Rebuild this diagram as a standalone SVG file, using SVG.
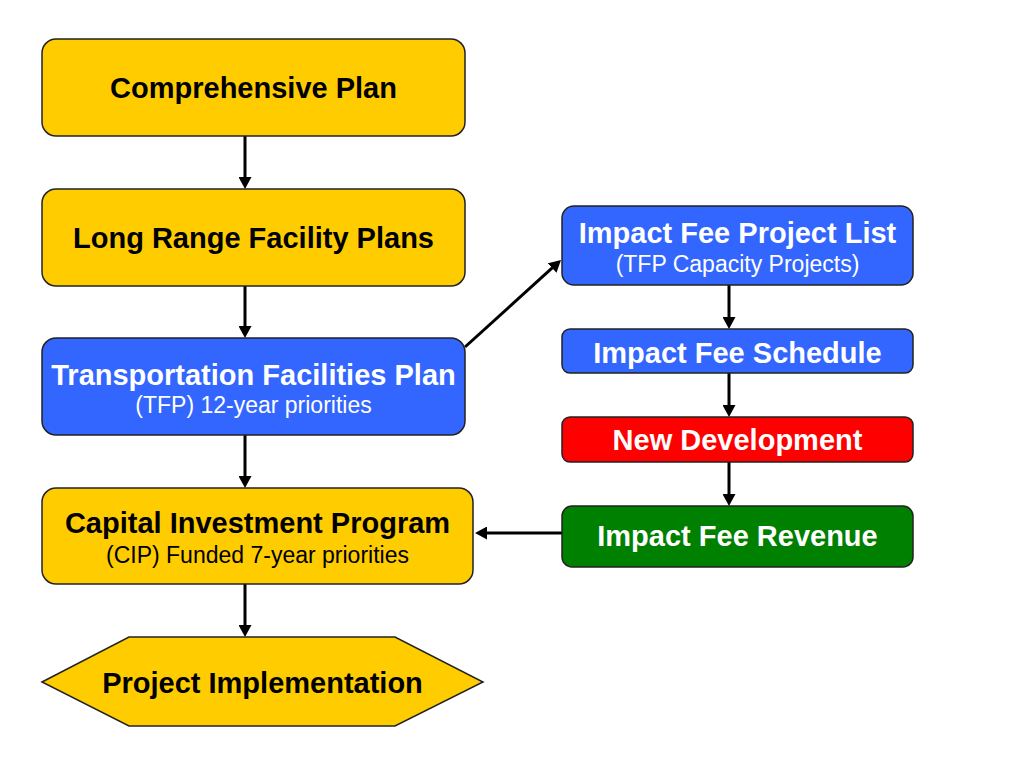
<svg xmlns="http://www.w3.org/2000/svg" width="1033" height="775" viewBox="0 0 1033 775">
  <style>
    .box { stroke: #222; stroke-width: 1.5; }
    .yellow { fill: #FFCC00; }
    .blue { fill: #3366FF; }
    .red { fill: #FF0000; }
    .green { fill: #008000; }
    .title { font-family: "Liberation Sans", Arial, sans-serif; font-weight: bold; font-size: 29px; text-anchor: middle; }
    .sub { font-family: "Liberation Sans", Arial, sans-serif; font-size: 23px; text-anchor: middle; }
    .dark { fill: #000; }
    .light { fill: #fff; }
    .conn { stroke: #000; stroke-width: 3; fill: none; marker-end: url(#arrow); }
  </style>
  <defs>
    <marker id="arrow" markerUnits="userSpaceOnUse" markerWidth="12" markerHeight="13" refX="2" refY="6.5" orient="auto">
      <path d="M0,0 L12,6.5 L0,13 z" fill="#000"/>
    </marker>
  </defs>
  <rect width="1033" height="775" fill="#fff"/>

  <g id="connectors">
    <line class="conn" x1="245" y1="136" x2="245" y2="179"/>
    <line class="conn" x1="245" y1="286" x2="245" y2="328"/>
    <line class="conn" x1="245" y1="435" x2="245" y2="478"/>
    <line class="conn" x1="245" y1="584" x2="245" y2="627"/>
    <line class="conn" x1="465" y1="347" x2="553.6" y2="266.7"/>
    <line class="conn" x1="729" y1="285" x2="729" y2="319"/>
    <line class="conn" x1="729" y1="373" x2="729" y2="407"/>
    <line class="conn" x1="729" y1="462" x2="729" y2="496"/>
    <line class="conn" x1="562" y1="533" x2="485" y2="533"/>
  </g>

  <g id="comprehensive-plan">
    <rect class="box yellow" x="42" y="39" width="423" height="97" rx="14"/>
    <text class="title dark" x="253.5" y="98">Comprehensive Plan</text>
  </g>

  <g id="long-range-facility-plans">
    <rect class="box yellow" x="42" y="189" width="423" height="97" rx="14"/>
    <text class="title dark" x="253.5" y="248">Long Range Facility Plans</text>
  </g>

  <g id="transportation-facilities-plan">
    <rect class="box blue" x="42" y="338" width="423" height="97" rx="14"/>
    <text class="title light" x="253.5" y="385">Transportation Facilities Plan</text>
    <text class="sub light" x="253.5" y="413">(TFP) 12-year priorities</text>
  </g>

  <g id="capital-investment-program">
    <rect class="box yellow" x="42" y="488" width="431" height="96" rx="14"/>
    <text class="title dark" x="257.5" y="533">Capital Investment Program</text>
    <text class="sub dark" x="257.5" y="563">(CIP) Funded 7-year priorities</text>
  </g>

  <g id="project-implementation">
    <polygon class="box yellow" points="42,682 129,637 395,637 483,682 395,726 129,726"/>
    <text class="title dark" x="262.5" y="693">Project Implementation</text>
  </g>

  <g id="impact-fee-project-list">
    <rect class="box blue" x="562" y="206" width="351" height="79" rx="12"/>
    <text class="title light" x="737.5" y="243">Impact Fee Project List</text>
    <text class="sub light" x="737.5" y="272">(TFP Capacity Projects)</text>
  </g>

  <g id="impact-fee-schedule">
    <rect class="box blue" x="562" y="329" width="351" height="44" rx="8"/>
    <text class="title light" x="737.5" y="363">Impact Fee Schedule</text>
  </g>

  <g id="new-development">
    <rect class="box red" x="562" y="417" width="351" height="45" rx="8"/>
    <text class="title light" x="737.5" y="450">New Development</text>
  </g>

  <g id="impact-fee-revenue">
    <rect class="box green" x="562" y="506" width="351" height="61" rx="10"/>
    <text class="title light" x="737.5" y="546">Impact Fee Revenue</text>
  </g>
</svg>
